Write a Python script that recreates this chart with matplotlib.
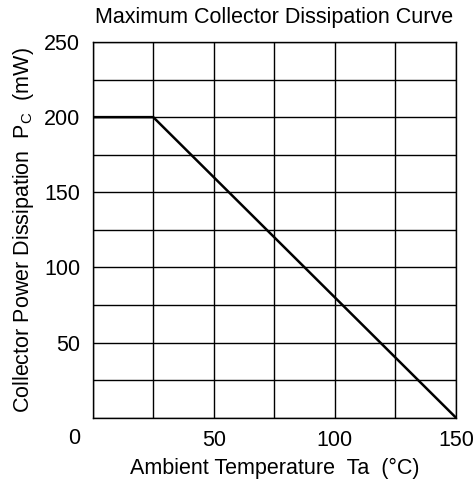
import matplotlib
matplotlib.use("Agg")
import matplotlib.pyplot as plt

plt.rcParams['font.family'] = ['Liberation Sans', 'DejaVu Sans']
plt.rcParams['mathtext.fontset'] = 'custom'
plt.rcParams['mathtext.rm'] = 'Liberation Sans'

temp = [0, 25, 150]
power = [200, 200, 0]
x_ticks = [50, 100, 150]
y_ticks = [50, 100, 150, 200, 250]
x_grid = [0, 25, 50, 75, 100, 125, 150]
y_grid = [0, 25, 50, 75, 100, 125, 150, 175, 200, 225, 250]

FS = 15.5
fig = plt.figure(figsize=(4.77, 4.86), dpi=100)
ax = fig.add_axes([92.7/477, 1 - 417.7/486, (456 - 92.7)/477, (417.7 - 42)/486])
ax.set_xlim(0, 150)
ax.set_ylim(0, 250)

for xv in x_grid:
    ax.axvline(xv, color='black', lw=1.0, zorder=1)
for yv in y_grid:
    ax.axhline(yv, color='black', lw=1.0, zorder=1)

ax.plot(temp, power, color='black', lw=1.8, zorder=3)

ax.set_xticks(x_ticks)
ax.set_yticks(y_ticks)
ax.tick_params(length=0, labelsize=FS, colors='black')
ax.tick_params(axis='x', pad=9)
ax.tick_params(axis='y', pad=9)
fig.text(74/477, 1 - 438/486, '0', ha='center', va='center', fontsize=FS)
for s in ax.spines.values():
    s.set_linewidth(1.0)

ax.set_xlabel('Ambient Temperature  Ta  (°C)', fontsize=FS, labelpad=5)
ax.set_ylabel(r'Collector Power Dissipation  P$_\mathregular{C}$  (mW)', fontsize=FS, labelpad=6)
ax.set_title('Maximum Collector Dissipation Curve', fontsize=FS, pad=14)

fig.savefig('out.png', dpi=100)
